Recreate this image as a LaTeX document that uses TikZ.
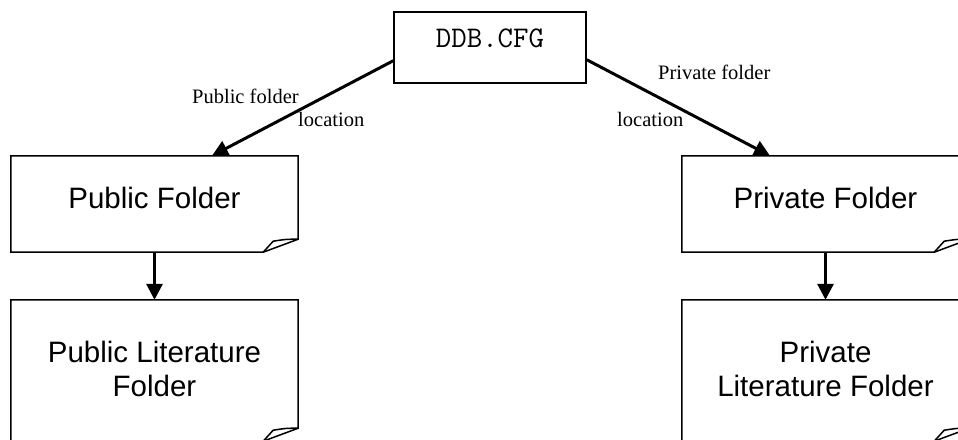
\documentclass[tikz,border=0pt]{standalone}
\usepackage{fontspec}
\setmainfont{Liberation Serif}
\newfontfamily\boxfont{Liberation Sans}
\usetikzlibrary{arrows.meta,calc}
\newcommand\docoutline[1]{%
  \draw[boxline] ($(#1.south east)+(0,-13)$) -- (#1.north east) -- (#1.north west) -- (#1.south west) -- ($(#1.south east)+(-35,0)$) -- cycle;
  \draw[boxline] ($(#1.south east)+(0,-13)$) .. controls ($(#1.south east)+(-12,-13)$) .. ($(#1.south east)+(-25,-11)$) -- ($(#1.south east)+(-35,0)$);
}
\begin{document}
\begin{tikzpicture}[x=1pt,y=-1pt,
  boxline/.style={line width=1.5pt, line join=miter},
  docbox/.style={rectangle, draw=none, inner sep=0pt, minimum width=287pt, minimum height=#1},
  boxtext/.style={inner sep=0pt, align=center, font={\boxfont\fontsize{29.5}{34.4}\selectfont}},
  lbl/.style={inner sep=0pt, anchor=base west, font={\fontsize{20.5}{24}\selectfont}},
  conn/.style={line width=3pt, -{Triangle[length=16pt,width=16pt]}}]
\useasboundingbox (0,0) rectangle (958,439);
\clip (0,0) rectangle (958,439);
% boxes
\node[rectangle, draw, line width=1.5pt, inner sep=0pt, minimum width=192pt, minimum height=71pt] (ddb) at (490,47.5) {};
\node[docbox=96pt] (pub) at (154.5,204) {};
\node[docbox=96pt] (priv) at (825.5,204) {};
\node[docbox=141pt] (publit) at (154.5,370.5) {};
\node[docbox=141pt] (privlit) at (825.5,370.5) {};
\docoutline{pub}
\docoutline{priv}
\docoutline{publit}
\docoutline{privlit}
% texts
\node[inner sep=0pt, font={\ttfamily\fontsize{30}{32}\selectfont}] (ddbt) at (490,38) {DDB.CFG};
\node[boxtext] (pubt) at (154.5,197.5) {Public Folder};
\node[boxtext] (privt) at (825.5,197.5) {Private Folder};
\node[boxtext] (publitt) at (154.5,369) {Public Literature\\Folder};
\node[boxtext] (privlitt) at (825.5,369) {Private\\Literature Folder};
% labels
\node[lbl] (l1) at (192,103) {Public folder};
\node[lbl] (l2) at (298,126.7) {location};
\node[lbl] (l3) at (658,79) {Private folder};
\node[lbl] (l4) at (617,126.7) {location};
% connectors
\draw[conn] ($(ddb.south west)+(0,-23)$) -- ($(pub.north)+(57.5,0)$);
\draw[conn] ($(ddb.south east)+(0,-24)$) -- ($(priv.north)+(-55.5,0)$);
\draw[conn] (pub.south) -- (publit.north);
\draw[conn] (priv.south) -- (privlit.north);
\end{tikzpicture}
\end{document}
